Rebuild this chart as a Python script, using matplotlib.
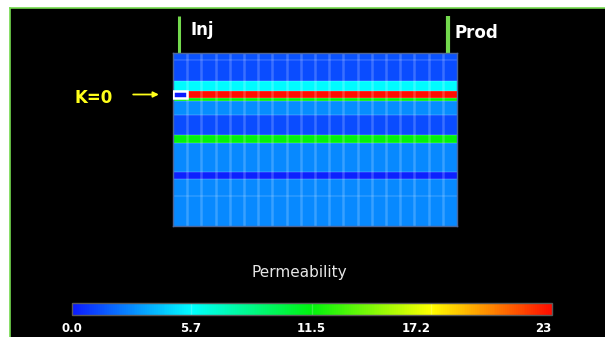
import numpy as np
import matplotlib
matplotlib.use("Agg")
import matplotlib.pyplot as plt
from matplotlib.colors import LinearSegmentedColormap, Normalize
from matplotlib.cm import ScalarMappable
from matplotlib.patches import Rectangle
from matplotlib.lines import Line2D

# ---- data ----
n_cols = 20
layer_thickness = [7, 21, 10, 6.5, 3, 14.5, 20, 8, 29, 7, 17, 30]
layer_perm = [1.5, 1.3, 5.7, 23.0, 11.5, 2.9, 1.3, 11.5, 2.8, 0.2, 2.8, 2.8]
zero_cell_layer = 3   # layer index of the K=0 cell
zero_cell_col = 0
cbar_ticks = [0.0, 5.7, 11.5, 17.2, 23.0]
cbar_labels = ["0.0", "5.7", "11.5", "17.2", "23"]
vmin, vmax = 0.0, 23.0

# ---- colormap ----
cmap = LinearSegmentedColormap.from_list(
    "perm", [(0.0, (0.05, 0.1, 1.0)), (0.25, (0.0, 1.0, 1.0)),
             (0.5, (0.0, 0.95, 0.05)), (0.75, (1.0, 1.0, 0.0)),
             (1.0, (1.0, 0.05, 0.0))])
norm = Normalize(vmin, vmax)

W, H = 605, 337
fig = plt.figure(figsize=(W / 100, H / 100), dpi=100)
fig.patch.set_facecolor("white")

# black panel with green top/left border
bg = Rectangle((10 / W, 0), 1 - 10 / W, 1 - 8 / H, transform=fig.transFigure,
               facecolor="black", edgecolor="none", zorder=-5)
fig.patches.append(bg)
green = (0.45, 0.85, 0.3)
fig.lines.append(Line2D([9.5 / W, 9.5 / W], [0, 1 - 7.5 / H], transform=fig.transFigure,
                        color=green, lw=1.2, zorder=-4))
fig.lines.append(Line2D([9.5 / W, 1], [1 - 7.5 / H, 1 - 7.5 / H], transform=fig.transFigure,
                        color=green, lw=1.2, zorder=-4))

# ---- main grid ----
ax = fig.add_axes([173 / W, 1 - 226 / H, 284 / W, 173 / H])
ax.set_facecolor("black")
y_edges = np.concatenate([[0], np.cumsum(layer_thickness)])
x_edges = np.arange(n_cols + 1)
vals = np.repeat(np.array(layer_perm)[:, None], n_cols, axis=1)
vals[zero_cell_layer, zero_cell_col] = 0.0
ax.pcolormesh(x_edges, y_edges, vals, cmap=cmap, norm=norm, shading="flat")
ax.set_xlim(0, n_cols)
ax.set_ylim(y_edges[-1], 0)
ax.vlines(x_edges[1:-1], 0, y_edges[-1], color="white", alpha=0.2, lw=1.8)
ax.hlines(y_edges[1:-1], 0, n_cols, color="white", alpha=0.12, lw=1.4)
for s in ax.spines.values():
    s.set_color((0.3, 0.4, 0.6))
    s.set_linewidth(1.0)
ax.set_xticks([])
ax.set_yticks([])

# K=0 cell highlight
ax.add_patch(Rectangle((zero_cell_col, y_edges[zero_cell_layer]), 1,
                       layer_thickness[zero_cell_layer], facecolor="none",
                       edgecolor="white", lw=1.8, zorder=5))

# wells
top = y_edges[0]
ax.plot([0.42, 0.42], [top, top - 37], color=green, lw=2.2, clip_on=False,
        solid_capstyle="butt")
ax.plot([19.37, 19.37], [top, top - 37], color=green, lw=3.0, clip_on=False,
        solid_capstyle="butt")
ax.text(1.2, top - 23, "Inj", color="white", fontsize=12, fontweight="bold",
        ha="left", va="center", clip_on=False)
ax.text(19.85, top - 20, "Prod", color="white", fontsize=12, fontweight="bold",
        ha="left", va="center", clip_on=False)

# K=0 annotation
fig.text(75 / W, 1 - 98 / H, "K=0", color=(1.0, 1.0, 0.1), fontsize=12,
         fontweight="bold", ha="left", va="center")
ax.annotate("", xy=(-0.8, y_edges[zero_cell_layer] + 3.5),
            xytext=(-3.0, y_edges[zero_cell_layer] + 3.5),
            arrowprops=dict(arrowstyle="-|>", color=(1.0, 1.0, 0.1), lw=1.3,
                            mutation_scale=8),
            annotation_clip=False)

# ---- colorbar ----
cax = fig.add_axes([71.7 / W, 1 - 315 / H, 480 / W, 11.7 / H])
cb = fig.colorbar(ScalarMappable(norm=norm, cmap=cmap), cax=cax,
                  orientation="horizontal", ticks=cbar_ticks)
cb.outline.set_edgecolor((0.35, 0.35, 0.35))
cb.outline.set_linewidth(1.0)
cax.set_xticklabels(cbar_labels)
cax.tick_params(axis="x", length=0, pad=5, labelcolor="white", labelsize=8.5)
for lbl, ha in zip(cax.get_xticklabels(), ["center", "center", "center", "right", "right"]):
    lbl.set_fontweight("bold")
    lbl.set_ha(ha)
for t in cbar_ticks[1:-1]:
    cax.axvline(t, color="white", alpha=0.22, lw=1)
fig.text(299 / W, 1 - 273 / H, "Permeability", color=(0.9, 0.9, 0.9),
         fontsize=11, ha="center", va="center")

fig.savefig("out.png", dpi=100, facecolor=fig.get_facecolor())
